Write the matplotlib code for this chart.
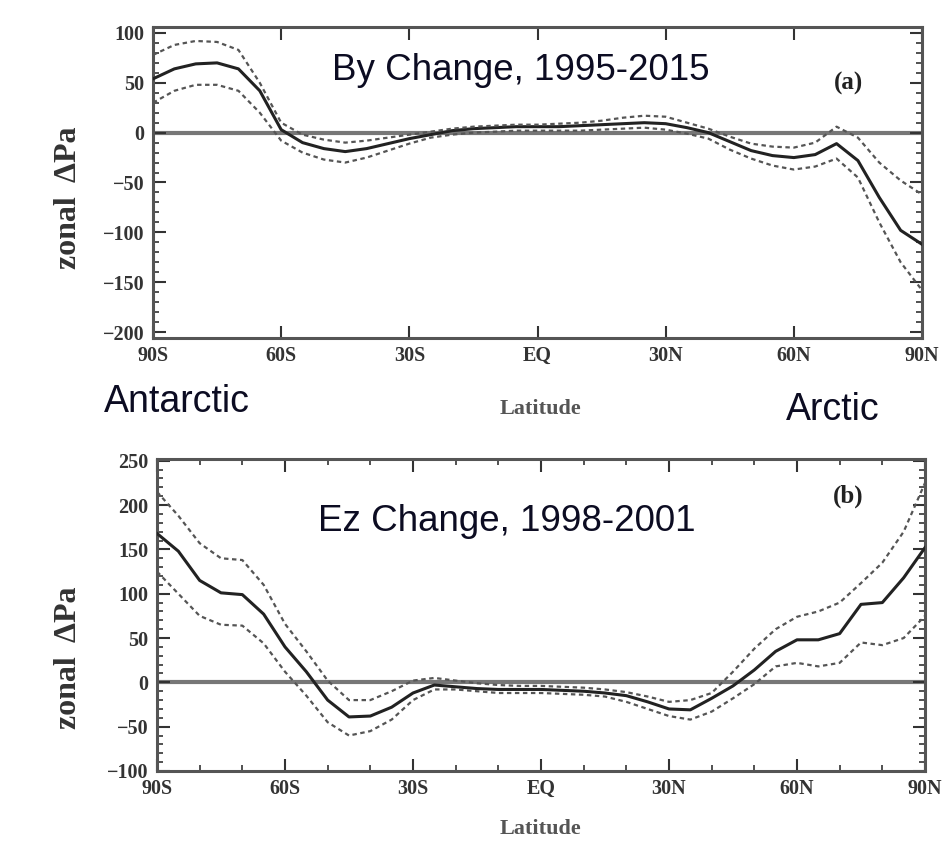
import matplotlib
matplotlib.use("Agg")
import matplotlib.pyplot as plt
from matplotlib.ticker import MultipleLocator

lat = [-90, -85, -80, -75, -70, -65, -60, -55, -50, -45, -40, -35, -30, -25, -20, -15, -10, -5,
       0, 5, 10, 15, 20, 25, 30, 35, 40, 45, 50, 55, 60, 65, 70, 75, 80, 85, 90]

by_mean = [54, 64, 69, 70, 64, 42, 3, -10, -16, -19, -16, -11, -6, -2, 2, 4, 5, 6,
           6, 6, 7, 8, 9, 10, 9, 5, 0, -9, -18, -23, -25, -22, -11, -28, -65, -98, -112]
by_upper = [78, 88, 92, 91, 83, 50, 10, -2, -7, -10, -8, -5, -2, 1, 4, 6, 7, 8,
            8, 9, 10, 12, 15, 17, 16, 10, 4, -4, -11, -14, -15, -10, 6, -5, -30, -48, -62]
by_lower = [30, 42, 48, 48, 42, 20, -8, -20, -27, -30, -25, -18, -11, -5, -2, 0, 1, 2,
            2, 2, 2, 3, 4, 5, 3, -1, -6, -17, -26, -33, -37, -34, -26, -45, -90, -130, -158]

ez_mean = [168, 148, 115, 101, 99, 77, 40, 12, -20, -39, -38, -28, -12, -3, -5, -7, -8, -8,
           -8, -9, -10, -12, -15, -22, -30, -31, -18, -4, 14, 35, 48, 48, 55, 88, 90, 118, 152]
ez_upper = [215, 188, 157, 140, 138, 110, 66, 35, 2, -20, -20, -10, 2, 5, 2, -1, -3, -4,
            -4, -5, -6, -8, -11, -16, -22, -20, -12, 12, 38, 60, 74, 80, 90, 112, 135, 170, 225]
ez_lower = [125, 100, 75, 65, 64, 44, 12, -15, -45, -60, -55, -42, -20, -8, -8, -10, -12, -12,
            -12, -13, -14, -16, -22, -30, -38, -42, -33, -18, -2, 18, 22, 18, 22, 45, 42, 50, 75]

xticks = [-90, -60, -30, 0, 30, 60, 90]
xticklabels = ["90S", "60S", "30S", "EQ", "30N", "60N", "90N"]
yticks_a = [-200, -150, -100, -50, 0, 50, 100]
yticks_b = [-100, -50, 0, 50, 100, 150, 200, 250]

W, H = 952, 844
fig = plt.figure(figsize=(W / 100, H / 100), dpi=100)

serif = ["Liberation Serif", "DejaVu Serif"]
sans = ["Liberation Sans", "DejaVu Sans"]
txtcol = "#0c0c22"


def style(ax, yticks, ylim, xminor):
    ax.set_xlim(-90, 90)
    ax.set_ylim(*ylim)
    ax.set_xticks(xticks)
    ax.set_xticklabels(xticklabels)
    ax.set_yticks(yticks)
    ax.set_yticklabels([str(v).replace("-", "\u2212") for v in yticks])
    if xminor:
        ax.xaxis.set_minor_locator(MultipleLocator(10))
    ax.yaxis.set_minor_locator(MultipleLocator(10))
    ax.tick_params(which="both", direction="in", top=True, right=True, colors="#333333")
    ax.tick_params(which="major", length=9, width=1.5, pad=6)
    ax.tick_params(which="minor", length=4, width=1.2)
    for lab in ax.get_xticklabels() + ax.get_yticklabels():
        lab.set_family(serif)
        lab.set_fontweight("bold")
        lab.set_fontsize(14.5)
        lab.set_color("#333333")
    for s in ax.spines.values():
        s.set_linewidth(2.2)
        s.set_color("#555555")
    ax.axhline(0, color="#777777", lw=3, zorder=1)


def curves(ax, mean, upper, lower):
    ax.plot(lat, mean, color="#222222", lw=2.2, zorder=3)
    ax.plot(lat, upper, color="#555555", lw=1.6, ls=(0, (2, 1.6)), zorder=3)
    ax.plot(lat, lower, color="#555555", lw=1.6, ls=(0, (2, 1.6)), zorder=3)


# panel (a)
axa = fig.add_axes([153 / W, 1 - 338 / H, (922 - 153) / W, (338 - 27) / H])
curves(axa, by_mean, by_upper, by_lower)
style(axa, yticks_a, (-206, 106), False)
axa.text(0.478, 0.86, "By Change, 1995-2015", transform=axa.transAxes, ha="center", va="center",
         fontsize=26.5, family=sans, color=txtcol)
axa.text(0.905, 0.82, "(a)", transform=axa.transAxes, ha="center", va="center",
         fontsize=18, family=serif, fontweight="bold", color="#222222")

# panel (b)
axb = fig.add_axes([157 / W, 1 - 771 / H, (925 - 157) / W, (771 - 459) / H])
curves(axb, ez_mean, ez_upper, ez_lower)
style(axb, yticks_b, (-100, 252), True)
axb.text(0.456, 0.80, "Ez Change, 1998-2001", transform=axb.transAxes, ha="center", va="center",
         fontsize=26.5, family=sans, color=txtcol)
axb.text(0.9, 0.88, "(b)", transform=axb.transAxes, ha="center", va="center",
         fontsize=18, family=serif, fontweight="bold", color="#222222")

# labels
for yc in (198, 658):
    fig.text(69 / W, 1 - yc / H, "zonal  \u0394Pa", rotation=90, ha="center", va="center",
             fontsize=23, family=serif, fontweight="bold", color="#333333")
for yc in (409, 829):
    fig.text(540 / W, 1 - yc / H, "Latitude", ha="center", va="center",
             fontsize=16, family=serif, fontweight="bold", color="#555555")

fig.text(177 / W, 1 - 402 / H, "Antarctic", ha="center", va="center",
         fontsize=27, family=sans, color=txtcol)
fig.text(833 / W, 1 - 410 / H, "Arctic", ha="center", va="center",
         fontsize=27, family=sans, color=txtcol)

fig.savefig("out.png", dpi=100)
